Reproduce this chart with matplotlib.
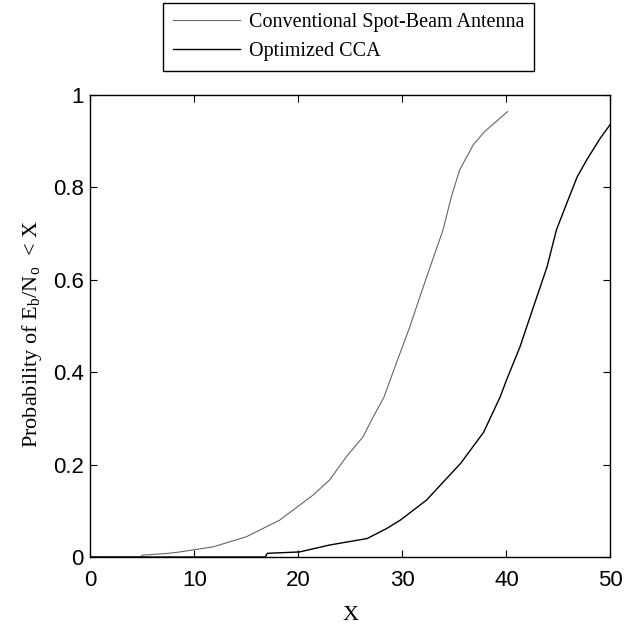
import numpy as np
import matplotlib.pyplot as plt

plt.rcParams['mathtext.fontset'] = 'custom'
plt.rcParams['mathtext.rm'] = 'Liberation Serif'
plt.rcParams['mathtext.it'] = 'Liberation Serif:italic'

# Кривые (X, вероятность)
conv_x = [0, 4.8, 5.0, 7.5, 8.6, 11.8, 15.0, 18.2, 21.4, 23.0, 24.6, 26.2, 27.2,
          28.2, 29.4, 30.7, 32.0, 33.0, 33.9, 34.7, 35.5, 36.8, 37.9, 40.1]
conv_y = [0, 0, 0.004, 0.008, 0.011, 0.022, 0.044, 0.080, 0.134, 0.167, 0.217,
          0.260, 0.304, 0.345, 0.419, 0.498, 0.585, 0.650, 0.708, 0.780, 0.838,
          0.892, 0.921, 0.964]

opt_x = [0, 16.8, 17.0, 20.1, 23.0, 26.6, 28.5, 29.8, 32.3, 35.6, 37.8, 39.4,
         40.0, 41.3, 42.6, 43.9, 44.8, 45.8, 46.8, 47.7, 49.0, 50.0]
opt_y = [0, 0, 0.008, 0.011, 0.026, 0.040, 0.062, 0.080, 0.123, 0.203, 0.270,
         0.347, 0.383, 0.455, 0.542, 0.628, 0.708, 0.766, 0.823, 0.859, 0.906,
         0.937]

labels = ['Conventional Spot-Beam Antenna', 'Optimized CCA']

fig = plt.figure(figsize=(6.35, 6.26), dpi=100)
ax = fig.add_axes([0.1425, 0.1102, 0.8189, 0.738])

l1, = ax.plot(conv_x, conv_y, color='#666666', linewidth=0.8)
l2, = ax.plot(opt_x, opt_y, color='black', linewidth=1.0)

ax.set_xlim(0, 50)
ax.set_ylim(0, 1)
ax.set_xticks([0, 10, 20, 30, 40, 50])
ax.set_yticks([0, 0.2, 0.4, 0.6, 0.8, 1])
ax.set_yticklabels(['0', '0.2', '0.4', '0.6', '0.8', '1'])
ax.tick_params(direction='in', top=True, right=True, labelsize=16, length=5)
ax.tick_params(axis='x', pad=9)
ax.tick_params(axis='y', pad=5)
for lab in ax.get_xticklabels() + ax.get_yticklabels():
    lab.set_fontfamily('Liberation Sans')
for s in ax.spines.values():
    s.set_linewidth(1.0)

ax.set_xlabel('X', fontfamily='Liberation Serif', fontsize=16, labelpad=11)
ax.set_ylabel(r'Probability of E$_\mathrm{b}$/N$_\mathrm{o}$  < X',
              fontfamily='Liberation Serif', fontsize=16, labelpad=6)
ax.yaxis.label.set_y(0.483)

leg = fig.legend([l1, l2], labels, loc='upper left',
                 bbox_to_anchor=(163 / 635, 1 - 3 / 626),
                 prop={'family': 'Liberation Serif', 'size': 14.5}, fancybox=False,
                 edgecolor='black', framealpha=1, handlelength=3.3, borderpad=0.5,
                 labelspacing=0.5, handletextpad=0.45, borderaxespad=0)
leg.get_frame().set_linewidth(1.0)

fig.savefig('out.png', dpi=100)
